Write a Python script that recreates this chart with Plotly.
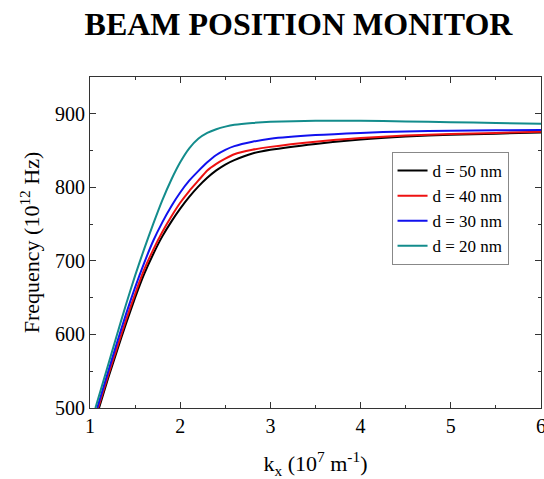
import plotly.graph_objects as go

# Data (k_x in 1e7 m^-1, frequency in 1e12 Hz)
k_d50 = [1.10, 1.2, 1.3, 1.4, 1.5, 1.6, 1.7, 1.8, 1.9, 2.0, 2.1, 2.2, 2.3, 2.4, 2.5, 2.6, 2.8, 3.0, 3.5, 4.0, 4.5, 5.0, 5.5, 6.0]
f_d50 = [500, 540, 578, 615, 650, 682, 709, 733, 753, 771, 787, 801, 813, 823, 831, 837, 846, 851, 859, 865, 869, 871.5, 873, 874.5]

k_d40 = [1.09, 1.2, 1.3, 1.4, 1.5, 1.6, 1.7, 1.8, 1.9, 2.0, 2.1, 2.2, 2.3, 2.4, 2.5, 2.6, 2.8, 3.0, 3.5, 4.0, 4.5, 5.0, 5.5, 6.0]
f_d40 = [500, 544, 582, 620, 655, 688, 715, 739, 760, 779, 795, 809, 823, 832, 839, 845, 851, 855, 862, 867, 870.5, 872.5, 874, 875.5]

k_d30 = [1.08, 1.2, 1.3, 1.4, 1.5, 1.6, 1.7, 1.8, 1.9, 2.0, 2.1, 2.2, 2.3, 2.4, 2.5, 2.6, 2.8, 3.0, 3.5, 4.0, 4.5, 5.0, 5.5, 6.0]
f_d30 = [500, 549, 589, 628, 664, 697, 727, 752, 774, 793, 809, 822, 834, 844, 851, 856, 862, 866, 871, 874, 876, 877, 877.5, 878]

k_d20 = [1.06, 1.2, 1.3, 1.4, 1.5, 1.6, 1.7, 1.8, 1.9, 2.0, 2.1, 2.2, 2.3, 2.4, 2.5, 2.6, 2.8, 3.0, 3.5, 4.0, 4.5, 5.0, 5.5, 6.0]
f_d20 = [500, 558, 600, 641, 680, 716, 750, 782, 810, 834, 853, 866, 874, 879, 882.5, 885, 887.5, 889, 890.5, 890.5, 889.5, 888.5, 887.5, 886.5]

names = ["d = 50 nm", "d = 40 nm", "d = 30 nm", "d = 20 nm"]
colors = ["#000000", "#ee1111", "#1111ee", "#138c8c"]

x_ticks = [1, 2, 3, 4, 5, 6]
y_ticks = [500, 600, 700, 800, 900]

fig = go.Figure()
for k, f, n, c in zip([k_d50, k_d40, k_d30, k_d20], [f_d50, f_d40, f_d30, f_d20], names, colors):
    fig.add_trace(go.Scatter(x=k, y=f, mode="lines", name=n,
                             line=dict(color=c, width=2, shape="spline", smoothing=0.6)))

serif = "Liberation Serif, Times New Roman, serif"
axis_common = dict(
    showline=True, linecolor="#333", linewidth=1, mirror="ticks",
    ticks="inside", ticklen=6, tickwidth=1, tickcolor="#333",
    showgrid=False, zeroline=False, automargin=False,
    tickfont=dict(family=serif, size=20, color="black"),
    minor=dict(ticks="inside", ticklen=3, tickwidth=1, tickcolor="#333", showgrid=False),
)

fig.update_layout(
    width=544, height=479,
    margin=dict(l=89.5, r=2.5, t=77, b=71),
    paper_bgcolor="white", plot_bgcolor="white",
    title=dict(text="<b>BEAM POSITION MONITOR</b>", xref="container", x=298.5 / 544,
               xanchor="center", yref="container", y=1 - 24 / 479, yanchor="middle",
               font=dict(family=serif, size=32, color="black"), automargin=False),
    xaxis=dict(range=[1, 6], tickvals=x_ticks, minor_dtick=0.5,
               ticklabeloverflow="allow",
               title=dict(text="k<sub>x</sub> (10<sup>7</sup> m<sup>-1</sup>)",
                          font=dict(family=serif, size=22, color="black"), standoff=19),
               **axis_common),
    yaxis=dict(range=[500, 950], tickvals=y_ticks, minor_dtick=50,
               title=dict(text="Frequency (10<sup>12</sup> Hz)",
                          font=dict(family=serif, size=22, color="black"), standoff=9),
               **axis_common),
    legend=dict(x=(391.7 - 89.5) / 452, y=(408 - 208.5) / 331, xanchor="left", yanchor="middle",
                bgcolor="white", bordercolor="#888", borderwidth=1,
                font=dict(family=serif, size=17, color="black"),
                tracegroupgap=0, itemwidth=30),
    showlegend=True,
)

fig.write_html("out.html")
